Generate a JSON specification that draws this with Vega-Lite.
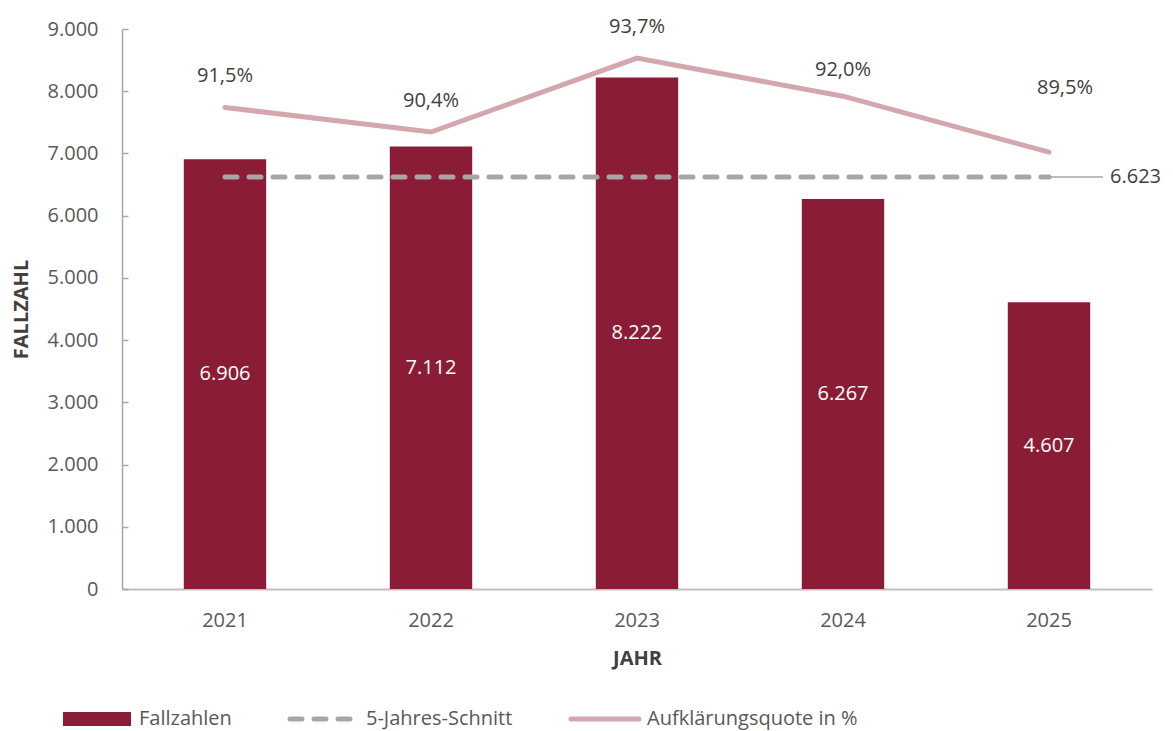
{
  "$schema": "https://vega.github.io/schema/vega-lite/v6.json",
  "width": 1030,
  "height": 560,
  "autosize": {"type": "none"},
  "padding": {"left": 122, "top": 29, "right": 21, "bottom": 142},
  "data": {
    "values": [
      {"jahr": "2021", "fallzahl": 6906, "quote": 0.915, "schnitt": 6623},
      {"jahr": "2022", "fallzahl": 7112, "quote": 0.904, "schnitt": 6623},
      {"jahr": "2023", "fallzahl": 8222, "quote": 0.937, "schnitt": 6623},
      {"jahr": "2024", "fallzahl": 6267, "quote": 0.920, "schnitt": 6623},
      {"jahr": "2025", "fallzahl": 4607, "quote": 0.895, "schnitt": 6623}
    ]
  },
  "encoding": {
    "x": {
      "field": "jahr",
      "type": "nominal",
      "sort": null,
      "scale": {"paddingInner": 0.6, "paddingOuter": 0.3},
      "axis": {
        "title": "JAHR",
        "labelAngle": 0,
        "ticks": false,
        "domainColor": "#BFBFBF",
        "domainWidth": 2,
        "labelPadding": 21,
        "titlePadding": 18
      }
    }
  },
  "layer": [
    {
      "layer": [
        {
          "mark": {"type": "bar", "color": "#8A1D35"},
          "encoding": {
            "y": {
              "field": "fallzahl",
              "type": "quantitative",
              "title": "FALLZAHL",
              "scale": {"domain": [0, 9000], "nice": false},
              "axis": {
                "values": [0, 1000, 2000, 3000, 4000, 5000, 6000, 7000, 8000, 9000],
                "format": ",.0f",
                "domainColor": "#A6A6A6",
                "domainWidth": 1.5,
                "tickColor": "#A6A6A6",
                "tickWidth": 1.5,
                "tickSize": -6,
                "labelPadding": 30,
                "titlePadding": 16
              }
            },
            "color": {
              "datum": "Fallzahlen",
              "type": "nominal",
              "scale": {
                "domain": ["Fallzahlen", "5-Jahres-Schnitt", "Aufklärungsquote in %"],
                "range": ["#8A1D35", "#A6A6A6", "#D4A6AE"]
              },
              "legend": {
                "title": null,
                "orient": "none",
                "direction": "horizontal",
                "legendX": -35,
                "legendY": 680,
                "padding": 0,
                "columnPadding": 48,
                "labelOffset": 32,
                "labelLimit": 400,
                "symbolSize": 4624,
                "labelFont": "Open Sans",
                "labelFontSize": 20,
                "labelColor": "#595959",
                "encode": {
                  "symbols": {
                    "update": {
                      "shape": {"signal": "datum.value === 'Fallzahlen' ? 'M-1,-0.206H1V0.206H-1Z' : 'stroke'"},
                      "fill": {"signal": "datum.value === 'Fallzahlen' ? '#8A1D35' : 'transparent'"},
                      "stroke": {"signal": "datum.value === 'Fallzahlen' ? 'transparent' : (datum.value === '5-Jahres-Schnitt' ? '#A6A6A6' : '#D4A6AE')"},
                      "strokeWidth": {"signal": "datum.value === 'Fallzahlen' ? 0 : 5"},
                      "strokeDash": {"signal": "datum.value === '5-Jahres-Schnitt' ? [12, 12] : [1, 0]"},
                      "strokeCap": {"value": "round"},
                      "opacity": {"value": 1}
                    }
                  }
                }
              }
            }
          }
        },
        {
          "transform": [{"calculate": "datum.fallzahl / 2", "as": "mitte"}],
          "mark": {"type": "text", "color": "#FFFFFF", "font": "Open Sans", "fontSize": 20, "baseline": "middle"},
          "encoding": {
            "y": {"field": "mitte", "type": "quantitative", "title": "FALLZAHL"},
            "text": {"field": "fallzahl", "type": "quantitative", "format": ",.0f"}
          }
        },
        {
          "mark": {"type": "line", "color": "#A6A6A6", "strokeWidth": 5, "strokeDash": [12, 12], "strokeCap": "round"},
          "encoding": {
            "y": {"field": "schnitt", "type": "quantitative", "title": "FALLZAHL"},
            "color": {"datum": "5-Jahres-Schnitt", "type": "nominal"}
          }
        },
        {
          "transform": [{"filter": "datum.jahr === '2025'"}],
          "mark": {"type": "rule", "color": "#A6A6A6", "strokeWidth": 1.5, "x2Offset": 54},
          "encoding": {
            "y": {"field": "schnitt", "type": "quantitative", "title": "FALLZAHL"},
            "x2": {"field": "jahr"}
          }
        },
        {
          "transform": [{"filter": "datum.jahr === '2025'"}],
          "mark": {"type": "text", "color": "#404040", "font": "Open Sans", "fontSize": 20, "align": "left", "baseline": "middle", "dx": 61},
          "encoding": {
            "y": {"field": "schnitt", "type": "quantitative", "title": "FALLZAHL"},
            "text": {"field": "schnitt", "type": "quantitative", "format": ",.0f"}
          }
        }
      ]
    },
    {
      "layer": [
        {
          "mark": {"type": "line", "color": "#D4A6AE", "strokeWidth": 5, "strokeCap": "round"},
          "encoding": {
            "y": {"field": "quote", "type": "quantitative", "scale": {"domain": [0.7, 0.95], "nice": false}, "axis": null},
            "color": {"datum": "Aufklärungsquote in %", "type": "nominal"}
          }
        },
        {
          "transform": [{"filter": "datum.jahr <= '2023'"}],
          "mark": {"type": "text", "color": "#404040", "font": "Open Sans", "fontSize": 20, "baseline": "middle", "dy": -31},
          "encoding": {
            "y": {"field": "quote", "type": "quantitative"},
            "text": {"field": "quote", "type": "quantitative", "format": ".1%"}
          }
        },
        {
          "transform": [{"filter": "datum.jahr === '2024'"}],
          "mark": {"type": "text", "color": "#404040", "font": "Open Sans", "fontSize": 20, "baseline": "middle", "dy": -26},
          "encoding": {
            "y": {"field": "quote", "type": "quantitative"},
            "text": {"field": "quote", "type": "quantitative", "format": ".1%"}
          }
        },
        {
          "transform": [{"filter": "datum.jahr === '2025'"}],
          "mark": {"type": "text", "color": "#404040", "font": "Open Sans", "fontSize": 20, "baseline": "middle", "dx": 16, "dy": -64},
          "encoding": {
            "y": {"field": "quote", "type": "quantitative"},
            "text": {"field": "quote", "type": "quantitative", "format": ".1%"}
          }
        }
      ]
    }
  ],
  "resolve": {"scale": {"y": "independent"}},
  "config": {
    "locale": {"number": {"decimal": ",", "thousands": ".", "grouping": [3], "currency": ["", " €"]}},
    "view": {"stroke": null},
    "font": "Open Sans",
    "axis": {
      "grid": false,
      "labelFont": "Open Sans",
      "labelFontSize": 20,
      "labelColor": "#595959",
      "titleFont": "Open Sans",
      "titleFontSize": 20,
      "titleFontWeight": "bold",
      "titleColor": "#404040"
    }
  }
}
